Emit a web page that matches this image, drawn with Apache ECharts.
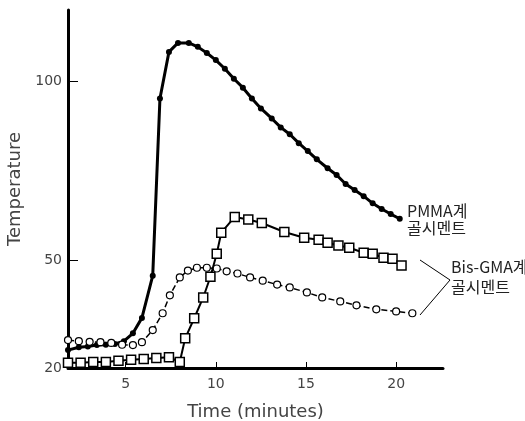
<!DOCTYPE html>
<html>
<head>
<meta charset="utf-8">
<script src="https://cdn.jsdelivr.net/npm/echarts@6/dist/echarts.min.js"></script>
<style>
  html, body { margin: 0; padding: 0; background: #fff; }
  #chart { width: 525px; height: 421px; }
</style>
</head>
<body>
<div id="chart"></div>
<script>
// PMMA bone cement (filled dots)
var pmmaTime = [1.8, 2.4, 2.9, 3.4, 3.9, 4.4, 4.9, 5.4, 5.9, 6.5, 6.9, 7.4, 7.9, 8.5, 9.0, 9.5, 10.0, 10.5, 11.0, 11.5, 12.0, 12.5, 13.1, 13.6, 14.1, 14.6, 15.1, 15.6, 16.2, 16.7, 17.2, 17.7, 18.2, 18.7, 19.2, 19.7, 20.2];
var pmmaTemp = [25, 25.8, 26, 26.4, 26.5, 26.7, 27.5, 29.7, 34, 45.8, 95.3, 108.3, 110.8, 110.8, 109.7, 108, 106, 103.6, 100.8, 98.3, 95.3, 92.5, 89.7, 87.2, 85.3, 82.8, 80.6, 78.3, 75.8, 73.9, 71.4, 69.7, 68, 66, 64.4, 63, 61.7];

// Bis-GMA bone cement, squares
var sqTime = [1.8, 2.5, 3.2, 3.9, 4.6, 5.3, 6.0, 6.7, 7.4, 8.0, 8.3, 8.8, 9.3, 9.7, 10.05, 10.3, 11.05, 11.8, 12.55, 13.8, 14.9, 15.7, 16.2, 16.8, 17.4, 18.2, 18.7, 19.3, 19.8, 20.3];
var sqTemp = [21.5, 21.5, 21.7, 21.7, 22, 22.3, 22.5, 22.8, 23, 21.7, 28.3, 33.9, 39.7, 45.5, 51.9, 57.8, 62.2, 61.5, 60.5, 58, 56.4, 55.8, 55, 54.2, 53.6, 52.2, 51.9, 50.8, 50.5, 48.6];

// Bis-GMA bone cement, open circles
var circTime = [1.8, 2.4, 3.0, 3.6, 4.2, 4.8, 5.4, 5.9, 6.5, 7.05, 7.45, 8.0, 8.45, 8.95, 9.5, 10.05, 10.6, 11.2, 11.9, 12.6, 13.4, 14.1, 15.05, 15.9, 16.9, 17.8, 18.9, 20.0, 20.9];
var circTemp = [27.8, 27.5, 27.3, 27.2, 27, 26.5, 26.4, 27.2, 30.6, 35.3, 40.3, 45.3, 47.2, 48, 48, 47.8, 47, 46.4, 45.3, 44.4, 43.3, 42.5, 41.1, 39.7, 38.6, 37.5, 36.4, 35.8, 35.3];

var xTicks = [5, 10, 15, 20];
var yTicks = [20, 50, 100];

function pairs(xs, ys) {
  var out = [];
  for (var i = 0; i < xs.length; i++) {
    out.push([xs[i], ys[i]]);
  }
  return out;
}

var chart = echarts.init(document.getElementById('chart'));
var labelFont = 'DejaVu Sans, sans-serif';
var krFont = 'Noto Sans CJK KR, sans-serif';

var option = {
  animation: false,
  grid: { left: 68, top: 10, right: 82, bottom: 53, outerBoundsMode: 'none' },
  xAxis: {
    type: 'value',
    min: 1.8,
    max: 22.6,
    name: 'Time (minutes)',
    nameLocation: 'middle',
    nameGap: 35,
    nameTextStyle: { color: '#444', fontSize: 18, fontFamily: labelFont },
    axisLine: { onZero: false, lineStyle: { color: '#000', width: 3 } },
    axisTick: { show: true, inside: true, length: 6, customValues: xTicks, lineStyle: { color: '#000', width: 1 } },
    axisLabel: { customValues: xTicks, color: '#444', fontSize: 14, fontFamily: labelFont, margin: 9 },
    splitLine: { show: false }
  },
  yAxis: {
    type: 'value',
    min: 20,
    max: 120,
    name: 'Temperature',
    nameLocation: 'middle',
    nameGap: 38,
    nameRotate: 90,
    nameTextStyle: { color: '#444', fontSize: 18, fontFamily: labelFont },
    axisLine: { show: true, onZero: false, lineStyle: { color: '#000', width: 3 } },
    axisTick: { show: true, inside: true, length: 10, customValues: [50, 100], lineStyle: { color: '#000', width: 1 } },
    axisLabel: { customValues: yTicks, color: '#444', fontSize: 14, fontFamily: labelFont, margin: 6 },
    splitLine: { show: false }
  },
  series: [
    {
      name: 'PMMA',
      type: 'line',
      data: pairs(pmmaTime, pmmaTemp),
      showAllSymbol: true,
      symbol: 'circle',
      symbolSize: 6,
      itemStyle: { color: '#000' },
      lineStyle: { color: '#000', width: 3 }
    },
    {
      name: 'Bis-GMA square',
      type: 'line',
      data: pairs(sqTime, sqTemp),
      showAllSymbol: true,
      symbol: 'rect',
      symbolSize: 9,
      itemStyle: { color: '#fff', borderColor: '#000', borderWidth: 1.5 },
      lineStyle: { color: '#000', width: 2 }
    },
    {
      name: 'Bis-GMA circle',
      type: 'line',
      data: pairs(circTime, circTemp),
      showAllSymbol: true,
      symbol: 'circle',
      symbolSize: 7,
      itemStyle: { color: '#fff', borderColor: '#000', borderWidth: 1.2 },
      lineStyle: { color: '#000', width: 1.5, type: 'dashed' }
    }
  ],
  graphic: [
    {
      type: 'text',
      left: 407,
      top: 202,
      style: { text: 'PMMA계\n골시멘트', fill: '#222', font: '16px ' + krFont, lineHeight: 17 }
    },
    {
      type: 'text',
      left: 451,
      top: 257,
      style: { text: 'Bis-GMA계\n골시멘트', fill: '#222', font: '16px ' + krFont, lineHeight: 20 }
    },
    {
      type: 'polyline',
      shape: { points: [[420, 260], [450, 280], [420, 315]] },
      style: { stroke: '#000', lineWidth: 1, fill: null }
    }
  ]
};

chart.setOption(option);
</script>
</body>
</html>
